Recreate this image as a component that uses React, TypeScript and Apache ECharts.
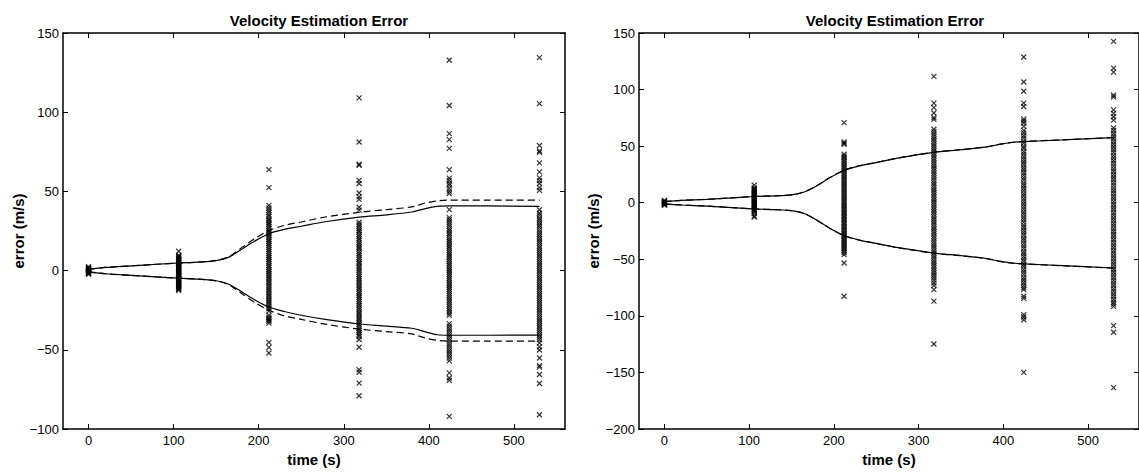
import React, { useEffect, useRef } from "react";
import * as echarts from "echarts";

// ---- Data ----
const TITLE = "Velocity Estimation Error";
const X_NAME = "time (s)";
const Y_NAME = "error (m/s)";
const X_TICKS = [0, 100, 200, 300, 400, 500];
const SAMPLE_TIMES = [0, 106, 212, 318, 424, 530];

const LINE_T = [0, 20, 50, 80, 106, 130, 150, 165, 180, 195, 212, 230, 250, 280, 318, 350, 380, 395, 410, 424, 470, 530];

// left chart bounds
const L_UP_SOLID = [0.8, 2, 3, 4, 4.8, 5.4, 6.3, 8.5, 13.5, 18.5, 23.3, 26, 28, 31, 33.8, 35.2, 37, 39, 40.5, 40.8, 40.8, 40.6];
const L_LO_SOLID = [-0.8, -2, -3, -4, -4.8, -5.4, -6.4, -8.6, -13.4, -18.4, -23, -25.8, -28.2, -31, -33.7, -35, -36.4, -38.5, -40.5, -40.8, -40.8, -40.7];
const L_UP_DASH = [0.8, 2, 3, 4, 4.8, 5.4, 6.4, 8.8, 14.5, 20, 25.3, 28.5, 30.7, 34, 36.8, 38.5, 40.2, 42.5, 44, 44.5, 44.5, 44.5];
const L_LO_DASH = [-0.8, -2, -3, -4, -4.8, -5.4, -6.5, -9, -14.5, -20, -25, -28.5, -30.8, -34, -36.9, -38.5, -40, -42.5, -44, -44.5, -44.5, -44.5];

// right chart bounds
const R_UP_SOLID = [1, 2, 3, 4.3, 5.5, 6.1, 7, 9.5, 15, 22, 28.5, 32.5, 35.5, 40, 44.5, 46.8, 49.3, 51.5, 53.2, 54, 55.5, 57.5];
const R_LO_SOLID = [-1, -2, -3, -4.3, -5.5, -6.1, -7, -9.5, -15.5, -22.5, -29, -33, -36, -40.2, -44.5, -46.8, -49.3, -51.7, -53.3, -54, -55.6, -57.7];
const R_UP_DASH = [1, 2, 3, 4.3, 5.5, 6.1, 7, 9.6, 15.2, 22.2, 28.7, 32.7, 35.6, 40.1, 44.6, 46.9, 49.4, 51.6, 53.3, 54.1, 55.6, 57.6];
const R_LO_DASH = [-1, -2, -3, -4.3, -5.5, -6.1, -7, -9.6, -15.6, -22.6, -29.2, -33.1, -36.1, -40.3, -44.6, -46.9, -49.4, -51.8, -53.4, -54.1, -55.7, -57.8];

// left chart samples
const L_S0 = [-2.3, -1.8, -1.4, -1.1, -0.7, -0.4, -0.1, 0.2, 0.5, 0.8, 1.1, 1.5, 1.9, 2.4, -0.9, 0.6, -1.6, 1.3];
const L_S106 = [12.2, 9.6, 9.1, 8.7, 8.2, 7.6, 7.3, 6.8, 6.1, 5.7, 5.2, 4.6, 4.1, 3.8, 3.2, 2.7, 2.1, 1.8, 1.2, 0.6, 0.3, -0.2, -0.8, -1.1, -1.7, -2.2, -2.6, -3.1, -3.7, -4.0, -4.6, -5.1, -5.5, -6.2, -6.6, -7.1, -7.5, -8.2, -8.6, -9.1, -9.7, -10.2, -10.8, -11.3, -11.9, -12.4];
const L_S212 = [63.7, 52.4, 41.2, 39.5, 38, 36.8, 35.2, 34.1, 32.6, 31.5, 30.2, 29.1, 27.8, 26.5, 25.4, 24.2, 23.1, 22, 20.8, 19.5, 18.4, 17.1, 15.9, 14.6, 13.2, 12.1, 10.8, 9.5, 8.3, 7, 5.8, 4.5, 3.1, 2.2, 0.8, -0.4, -1.7, -2.9, -4.1, -5.3, -6.6, -7.8, -9.2, -10.4, -11.7, -12.8, -14.1, -15.3, -16.5, -17.9, -19.2, -20.4, -21.6, -22.9, -24.1, -25.6, -28.2, -29.5, -30.4, -31.3, -32.1, -33.2, -45.3, -48.5, -52];
const L_S318 = [109, 81.2, 67.2, 66.5, 57, 55, 49, 46.5, 45, 40, 38.2, 30.5, 29.2, 28.1, 26.7, 25.3, 24.4, 22.9, 21.5, 20.2, 19.1, 17.6, 16.2, 14.9, 13.8, 12.1, 10.7, 9.6, 8.2, 6.9, 5.4, 4.3, 2.8, 1.6, 0.2, -1.1, -2.5, -3.8, -5.1, -6.4, -7.7, -9.2, -10.4, -11.6, -13.1, -14.3, -15.7, -16.8, -18.2, -19.6, -20.9, -22.1, -23.5, -24.8, -26.2, -27.4, -28.7, -30.1, -31.3, -32.6, -33.9, -35.2, -36.6, -37.8, -39.1, -40.4, -41.6, -43.5, -48.4, -62.5, -64.2, -71, -79];
const L_S424 = [132.8, 104.2, 86.5, 82.7, 77.2, 63.7, 58.4, 56.9, 55.1, 53.8, 51.9, 50.2, 48.7, 38.5, 33.4, 32.1, 30.6, 29.2, 27.9, 26.3, 25.1, 23.6, 22.4, 20.8, 19.5, 18.2, 16.7, 15.4, 14.1, 12.6, 11.3, 9.9, 8.6, 7.2, 5.8, 4.5, 3.2, 1.7, 0.4, -0.9, -2.3, -3.6, -5, -6.3, -7.7, -9.1, -10.4, -11.8, -13.1, -14.5, -15.8, -17.2, -18.6, -19.9, -21.3, -22.6, -24.1, -25.4, -26.8, -28.2, -33.5, -35.1, -36.7, -38.2, -39.8, -41.3, -42.9, -44.4, -46, -47.5, -49.1, -50.6, -52.2, -53.7, -55.3, -57, -64.6, -67.8, -69.3, -92];
const L_S530 = [134.5, 105.4, 79, 75.5, 74.6, 68, 62.3, 58.5, 56.8, 55, 52.4, 50.6, 38.4, 36.2, 34.9, 33.1, 31.8, 30.2, 28.7, 27.4, 25.9, 24.3, 22.8, 21.6, 20.1, 18.5, 17.2, 15.6, 14.3, 12.8, 11.4, 9.9, 8.5, 7.1, 5.6, 4.2, 2.8, 1.3, -0.1, -1.6, -3, -4.5, -5.9, -7.4, -8.8, -10.2, -11.7, -13.1, -14.6, -16, -17.5, -18.9, -20.4, -21.8, -23.3, -24.7, -26.2, -27.6, -29.1, -30.5, -32, -33.4, -34.9, -36.3, -37.8, -39.2, -40.7, -42.1, -43.6, -45.7, -48.2, -50.1, -55.2, -60, -60.9, -65.6, -71.3, -91];

// right chart samples
const R_S0 = [-2.2, -1.7, -1.3, -0.9, -0.6, -0.2, 0.1, 0.4, 0.8, 1.2, 1.6, 2.1, -1.1, 0.6];
const R_S106 = [15.4, 13, 12.2, 11.5, 10.6, 9.8, 9.1, 8.3, 7.5, 6.8, 6, 5.2, 4.5, 3.7, 2.9, 2.2, 1.4, 0.6, -0.2, -1, -1.7, -2.5, -3.3, -4.1, -4.8, -5.6, -6.4, -7.2, -8, -9.6, -11.9, -12.6];
const R_S212 = [70.8, 53.7, 52.5, 51.6, 42.8, 41.2, 39.7, 38.1, 36.6, 35, 33.5, 31.9, 30.4, 28.8, 27.3, 25.7, 24.2, 22.6, 21.1, 19.5, 18, 16.4, 14.9, 13.3, 11.8, 10.2, 8.7, 7.1, 5.6, 4, 2.5, 0.9, -0.6, -2.2, -3.7, -5.3, -6.8, -8.4, -9.9, -11.5, -13, -14.6, -16.1, -17.7, -19.2, -20.8, -22.3, -23.9, -25.4, -27, -28.5, -30.1, -31.6, -33.2, -34.7, -36.3, -37.8, -39.4, -40.9, -42.5, -44, -45.9, -53.3, -82.7];
const R_S318 = [111.7, 88, 84, 79.3, 75.2, 73.7, 64.9, 62.8, 60.6, 58.5, 56.3, 54.2, 52, 49.9, 47.7, 45.6, 43.4, 41.3, 39.1, 37, 34.8, 32.7, 30.5, 28.4, 26.2, 24.1, 21.9, 19.8, 17.6, 15.5, 13.3, 11.2, 9, 6.9, 4.7, 2.6, 0.4, -1.7, -3.9, -6, -8.2, -10.3, -12.5, -14.6, -16.8, -18.9, -21.1, -23.2, -25.4, -27.5, -29.7, -31.8, -34, -36.1, -38.3, -40.4, -42.6, -44.7, -46.9, -49, -51.2, -53.3, -55.5, -57.6, -59.8, -61.9, -64.1, -66.2, -68.4, -71, -73.3, -76.8, -87, -124.9];
const R_S424 = [128.8, 106.7, 98.5, 88, 85, 74.1, 72.2, 70.3, 67.5, 64, 61.7, 59.2, 57.1, 54.5, 52.4, 49.8, 47.9, 45.1, 43, 40.6, 38.3, 36, 33.8, 31.2, 29.1, 26.7, 24.4, 22, 19.9, 17.3, 15.2, 12.8, 10.5, 8.1, 5.9, 3.4, 1.2, -1.1, -3.5, -5.6, -8.2, -10.3, -12.7, -15, -17.2, -19.8, -21.9, -24.3, -26.6, -28.8, -31.4, -33.5, -35.9, -38.2, -40.4, -43, -45.1, -47.5, -49.8, -52, -54.6, -56.7, -59.1, -61.4, -63.6, -66.2, -68.3, -70.7, -73, -75.2, -76.8, -82.7, -84.5, -98.9, -101, -103.4, -149.9];
const R_S530 = [142.6, 118.9, 115.4, 95, 93.3, 82, 79, 76, 73, 66.1, 63.8, 61.2, 58.9, 56.5, 54, 51.7, 49.2, 46.8, 44.5, 41.9, 39.6, 37.1, 34.8, 32.3, 29.9, 27.6, 25, 22.7, 20.3, 17.8, 15.5, 12.9, 10.6, 8.2, 5.7, 3.4, 0.9, -1.4, -3.9, -6.2, -8.7, -11, -13.5, -15.8, -18.3, -20.6, -23.1, -25.4, -27.9, -30.2, -32.7, -35, -37.5, -39.8, -42.3, -44.6, -47.1, -49.4, -51.9, -54.2, -56.7, -59, -61.5, -63.8, -66.3, -68.6, -71.1, -73.4, -75.9, -78.2, -80.7, -83, -85.5, -87.8, -89.6, -91.6, -108.6, -114.5, -163.4];

const LEFT_SAMPLES = [L_S0, L_S106, L_S212, L_S318, L_S424, L_S530];
const RIGHT_SAMPLES = [R_S0, R_S106, R_S212, R_S318, R_S424, R_S530];

const FONT = "'Liberation Sans', Arial, Helvetica, sans-serif";
const fmt = (v: number) => String(v).replace("-", "\u2212");

function pairs(ts: number[], vs: number[]) {
  return ts.map((t, i) => [t, vs[i]]);
}
function samplePairs(groups: number[][]) {
  const out: number[][] = [];
  groups.forEach((g, i) => g.forEach((v) => out.push([SAMPLE_TIMES[i], v])));
  return out;
}

export default function App() {
  const ref = useRef<HTMLDivElement>(null);
  useEffect(() => {
    if (!ref.current) return;
    const chart = echarts.init(ref.current, null, { renderer: "svg" });
    const grids = [
      { left: 63, top: 33, width: 502, height: 396 },
      { left: 639, top: 33, width: 503, height: 396 },
    ];
    const yRanges = [
      [-100, 150],
      [-200, 150],
    ];
    const axLine = { show: true, lineStyle: { color: "#000", width: 1.5 } };
    const xAxes: any[] = [];
    const yAxes: any[] = [];
    [0, 1].forEach((g) => {
      xAxes.push({
        type: "value", gridIndex: g, position: "bottom", min: -30, max: 560,
        axisLine: { ...axLine, onZero: false },
        axisTick: { show: true, inside: true, length: 5, customValues: X_TICKS, lineStyle: { color: "#000" } },
        axisLabel: { show: true, customValues: X_TICKS, margin: 5, color: "#000", fontSize: 13, fontFamily: FONT, formatter: fmt },
        splitLine: { show: false },
        name: X_NAME, nameLocation: "middle", nameGap: 19,
        nameTextStyle: { color: "#000", fontSize: 15, fontWeight: "bold", fontFamily: FONT },
      });
      xAxes.push({
        type: "value", gridIndex: g, position: "top", min: -30, max: 560,
        axisLine: { ...axLine, onZero: false },
        axisTick: { show: true, inside: true, length: 5, customValues: X_TICKS, lineStyle: { color: "#000" } },
        axisLabel: { show: false },
        splitLine: { show: false },
      });
      yAxes.push({
        type: "value", gridIndex: g, position: "left", min: yRanges[g][0], max: yRanges[g][1], interval: 50,
        axisLine: { ...axLine, onZero: false },
        axisTick: { show: true, inside: true, length: 5, lineStyle: { color: "#000" } },
        axisLabel: { show: true, margin: 4, color: "#000", fontSize: 13, fontFamily: FONT, formatter: fmt },
        splitLine: { show: false },
        name: Y_NAME, nameLocation: "middle", nameGap: g === 0 ? 37 : 38,
        nameTextStyle: { color: "#000", fontSize: 15, fontWeight: "bold", fontFamily: FONT },
      });
      yAxes.push({
        type: "value", gridIndex: g, position: "right", min: yRanges[g][0], max: yRanges[g][1], interval: 50,
        axisLine: { ...axLine, onZero: false },
        axisTick: { show: true, inside: true, length: 5, lineStyle: { color: "#000" } },
        axisLabel: { show: false },
        splitLine: { show: false },
      });
    });

    const lineSeries = (xi: number, data: number[], dashed: boolean) => ({
      type: "line", xAxisIndex: xi, yAxisIndex: xi, data: pairs(LINE_T, data),
      showSymbol: false, symbol: "none", smooth: 0.3,
      lineStyle: { color: "#000", width: 1.2, type: dashed ? [7, 4] : "solid" },
      z: 3,
    });
    const scatterSeries = (xi: number, groups: number[][]) => ({
      type: "scatter", xAxisIndex: xi, yAxisIndex: xi, data: samplePairs(groups),
      symbol: "path://M0,0L10,10M10,0L0,10", symbolSize: 5,
      itemStyle: { color: "transparent", borderColor: "#000", borderWidth: 1.2 },
      z: 2,
    });

    chart.setOption({
      animation: false,
      backgroundColor: "#fff",
      title: [
        { text: TITLE, left: 314, top: 8, textAlign: "center", textStyle: { color: "#000", fontSize: 15, fontWeight: "bold", fontFamily: FONT } },
        { text: TITLE, left: 890, top: 8, textAlign: "center", textStyle: { color: "#000", fontSize: 15, fontWeight: "bold", fontFamily: FONT } },
      ],
      grid: grids,
      xAxis: xAxes,
      yAxis: yAxes,
      series: [
        scatterSeries(0, LEFT_SAMPLES),
        lineSeries(0, L_UP_SOLID, false),
        lineSeries(0, L_LO_SOLID, false),
        lineSeries(0, L_UP_DASH, true),
        lineSeries(0, L_LO_DASH, true),
        scatterSeries(2, RIGHT_SAMPLES),
        lineSeries(2, R_UP_SOLID, false),
        lineSeries(2, R_LO_SOLID, false),
        lineSeries(2, R_UP_DASH, true),
        lineSeries(2, R_LO_DASH, true),
      ],
    });
    return () => chart.dispose();
  }, []);
  return (
    <div
      ref={ref}
      style={{ position: "absolute", left: 0, top: 0, width: 1139, height: 476, background: "#fff" }}
    />
  );
}
